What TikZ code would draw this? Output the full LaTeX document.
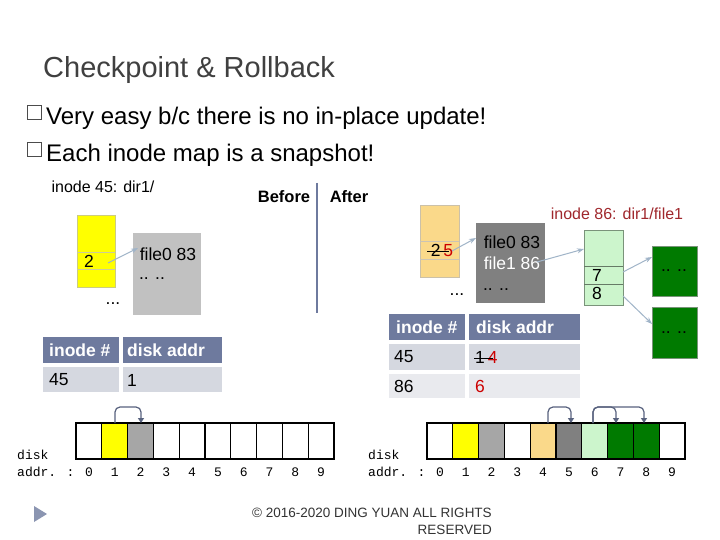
\documentclass[tikz,border=0pt]{standalone}
\usepackage{fontspec}
\setmainfont{Liberation Sans}
\newfontfamily\monof{Liberation Mono}
\usetikzlibrary{arrows.meta}
\definecolor{slate}{HTML}{6E7A9E}
\definecolor{rowa}{HTML}{D5D8E0}
\definecolor{rowb}{HTML}{E9EAEE}
\definecolor{gryl}{HTML}{A6A6A6}
\definecolor{gryd}{HTML}{808080}
\definecolor{orng}{HTML}{FAD98A}
\definecolor{lgrn}{HTML}{CCF5CC}
\definecolor{dgrn}{HTML}{007A00}
\definecolor{ylw}{HTML}{FFFF00}
\definecolor{darr}{HTML}{A0B4C8}
\definecolor{dred}{HTML}{A0282D}
\tikzset{x=1pt,y=-1pt,
 lbl/.style={font=\fontsize{17.5}{19}\selectfont, inner sep=0pt},
 hd/.style={font=\fontsize{17.5}{19}\selectfont\bfseries, text=white, inner sep=0pt, anchor=west},
 cell/.style={font=\fontsize{17.5}{19}\selectfont, inner sep=0pt, anchor=west},
 ptr/.style={-{Stealth[length=7pt,width=5pt]}, darr, line width=1pt},
 jmp/.style={-{Triangle[length=5pt,width=6pt]}, draw=slate!80!black, line width=1.2pt, rounded corners=5pt},
 mono/.style={font=\monof\fontsize{13}{14}\selectfont, inner sep=0pt}}
\begin{document}
\begin{tikzpicture}
\useasboundingbox (0,0) rectangle (720,540);
\fill[white] (0,0) rectangle (720,540);
\node[anchor=base west, inner sep=0pt, font=\fontsize{29}{31}\selectfont, text=black!75] (title) at (43,78) {Checkpoint \& Rollback};
\draw[black!70] (27,105) rectangle (41,119);
\draw[black!70] (27,142) rectangle (41,156);
\node[anchor=base west, inner sep=0pt, font=\fontsize{24}{26}\selectfont] (b1) at (46,125) {Very easy b/c there is no in-place update!};
\node[anchor=base west, inner sep=0pt, font=\fontsize{24}{26}\selectfont] (b2) at (46,162) {Each inode map is a snapshot!};
% left before
\node[lbl,font=\fontsize{16}{18}\selectfont] (t45) at (103,187) {inode 45: dir1/};
\draw[fill=ylw, draw=ylw!60!black!50] (77,215) rectangle (115,287);
\draw[ylw!50!black!40] (77,252) -- (115,252) (77,269) -- (115,269);
\node[lbl] (two) at (89,261) {2};
\fill[gryl!70] (133,233) rectangle (201,315);
\node[lbl] (f0) at (168,254) {file0 83};
\node[lbl] (dd1) at (152,279) {.. ..};
\node[lbl] (el1) at (113,304) {...};
\draw[ptr] (108,263) -- (138,248);
\node[lbl,font=\fontsize{16.5}{18}\selectfont\bfseries] (bef) at (284,197) {Before};
\draw[slate, line width=2pt] (317,183) -- (317,313);
\node[lbl,font=\fontsize{16.5}{18}\selectfont\bfseries] (aft) at (349,197) {After};
% left table
\fill[slate] (43,337) rectangle (119,363); \fill[slate] (123,337) rectangle (222,363);
\fill[rowa] (43,367) rectangle (119,392); \fill[rowa] (123,367) rectangle (222,392);
\node[hd] at (49,350) {inode \#}; \node[hd] at (127,350) {disk addr};
\node[cell] at (49,380) {45}; \node[cell] at (127,380) {1};
% left disk
\foreach \i/\c in {0/white,1/ylw,2/gryl,3/white,4/white,5/white,6/white,7/white,8/white,9/white}{
 \draw[fill=\c, line width=1.3pt] ({76+\i*25.8},423) rectangle ({76+(\i+1)*25.8},459);
 \node[mono] at ({88.9+\i*25.8},472) {\i};}
\node[mono, anchor=west] at (17,455) {disk};
\node[mono, anchor=west] at (17,472) {addr. :};
\draw[jmp] (115,423) -- (115,407) -- (141,407) -- (141,423);
% right after
\node[lbl, font=\fontsize{16}{18}\selectfont, text=dred] (t86) at (617,214) {inode 86: dir1/file1};
\draw[fill=orng, draw=orng!60!black!50] (420,205) rectangle (459,277);
\draw[orng!50!black!40] (420,241) -- (459,241) (420,259) -- (459,259);
\node[lbl] (tf) at (442,250) {2\,\textcolor{red!80!black}{5}};
\draw[line width=1pt] (427,251) -- (449,251);
\fill[gryd] (476,223) rectangle (545,303);
\node[lbl] at (512,242) {file0 83};
\node[lbl, text=white] at (512,263) {file1 86};
\node[lbl] at (496,290) {.. ..};
\node[lbl] at (457,295) {...};
\draw[fill=lgrn, draw=lgrn!60!black] (584,230) rectangle (623,305);
\draw[lgrn!50!black] (584,266) -- (623,266) (584,284) -- (623,284);
\node[lbl] at (597,275) {7}; \node[lbl] at (597,293) {8};
\draw[fill=dgrn, draw=lgrn!60!black] (652,246) rectangle (697,296);
\draw[fill=dgrn, draw=lgrn!60!black] (652,307) rectangle (697,358);
\node[lbl] at (674,271) {.. ..}; \node[lbl] at (674,333) {.. ..};
\draw[ptr] (452,251) -- (476,238);
\draw[ptr] (537,262) -- (584,249);
\draw[ptr] (623,272) -- (652,257);
\draw[ptr] (623,296) -- (652,324);
% right table
\fill[slate] (389,314) rectangle (465,340); \fill[slate] (469,314) rectangle (580,340);
\fill[rowa] (389,344) rectangle (465,370); \fill[rowa] (469,344) rectangle (580,370);
\fill[rowb] (389,374) rectangle (465,398); \fill[rowb] (469,374) rectangle (580,398);
\node[hd] at (396,327) {inode \#}; \node[hd] at (476,327) {disk addr};
\node[cell] at (394,357) {45}; \node[cell] at (475,357) {1\,\textcolor{red!80!black}{4}};
\draw[line width=1pt] (474,358) -- (493,358);
\node[cell] at (394,386) {86}; \node[cell, text=red!80!black] at (475,386) {6};
% right disk
\foreach \i/\c in {0/white,1/ylw,2/gryl,3/white,4/orng,5/gryd,6/lgrn,7/dgrn,8/dgrn,9/white}{
 \draw[fill=\c, line width=1.3pt] ({427+\i*25.8},423) rectangle ({427+(\i+1)*25.8},459);
 \node[mono] at ({439.9+\i*25.8},472) {\i};}
\node[mono, anchor=west] at (368,455) {disk};
\node[mono, anchor=west] at (368,472) {addr. :};
\draw[jmp] (548,423) -- (548,407) -- (571,407) -- (571,423);
\draw[jmp] (593,423) -- (593,407) -- (616,407) -- (616,423);
\draw[jmp] (593,423) -- (593,407) -- (644,407) -- (644,423);
% footer
\node[font=\fontsize{13.5}{17}\selectfont, align=right, inner sep=0pt, text=black!80] (foot) at (372,521) {© 2016-2020 DING YUAN ALL RIGHTS\\RESERVED};
\fill[slate!80] (34,506) -- (47,514) -- (34,522) -- cycle;
\end{tikzpicture}
\end{document}
